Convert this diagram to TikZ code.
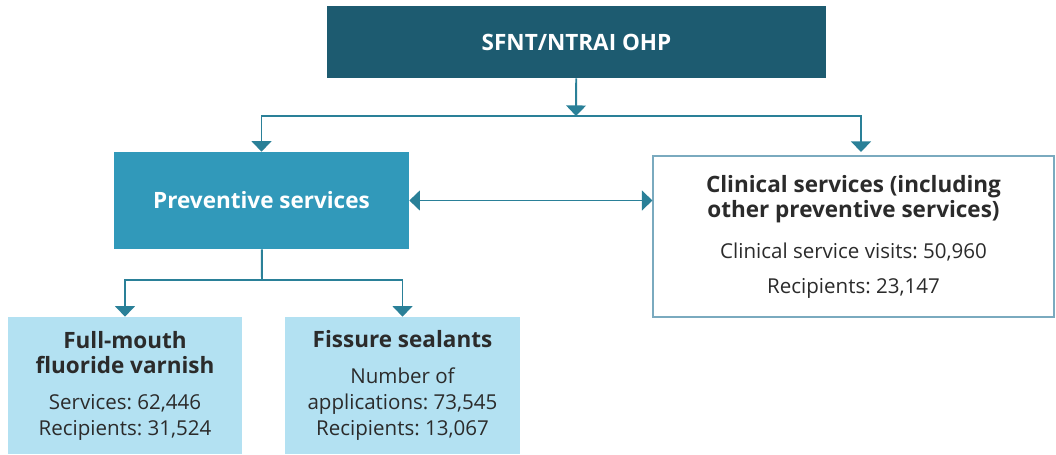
\documentclass[tikz,border=0pt]{standalone}
\usepackage{fontspec}
\setmainfont{Open Sans}
\usetikzlibrary{arrows.meta}
\definecolor{ohpdark}{HTML}{1D5B70}
\definecolor{prevblue}{HTML}{3199BA}
\definecolor{linkteal}{HTML}{2A8098}
\definecolor{lightblue}{HTML}{B3E1F2}
\definecolor{clinedge}{HTML}{7AAABF}
\definecolor{textgrey}{HTML}{2B2B2B}
\newcommand\headfont{\fontsize{16}{17.8}\selectfont\bfseries}
\frenchspacing

\begin{document}
\begin{tikzpicture}
  [x=0.025cm,y=-0.025cm]
      \tikzstyle{box_style} = [inner sep=0, align=center, font=\fontsize{14.6}{18.5}\selectfont]
      \tikzstyle{head_style} = [font=\headfont]
      \tikzstyle{edge_style} = [draw=linkteal, line width=1.4pt]
      \tikzstyle{arrow_style} = [edge_style, -{Triangle[width=14pt,length=7.5pt]}]
  \useasboundingbox (0,0) rectangle (1056,454);
  \node[box_style, head_style, fill=ohpdark, text=white, minimum width=12.475cm, minimum height=1.8cm] (ohp) at (576.5,42) {SFNT/NTRAI OHP};
  \node[box_style, head_style, fill=prevblue, text=white, minimum width=7.375cm, minimum height=2.425cm] (prev) at (261.5,200.5) {Preventive services};
  \node[box_style, fill=white, draw=clinedge, line width=1.4pt, text=textgrey, minimum width=10.0cm, minimum height=4.0cm] (clin) at (853.5,236.5)
    {\headfont Clinical services (including\\[-0.7pt] \headfont other preventive services)\\[11pt]
     Clinical service visits: 50,960\\[6pt] Recipients: 23,147};
  \node[box_style, fill=lightblue, text=textgrey, minimum width=5.85cm, minimum height=3.425cm] (fmfv) at (125,385.5)
    {\headfont Full-mouth\\[-0.7pt] \headfont fluoride varnish\\[7pt] Services: 62,446\\ Recipients: 31,524};
  \node[box_style, fill=lightblue, text=textgrey, minimum width=5.875cm, minimum height=3.425cm] (fs) at (402.5,385.5)
    {\headfont Fissure sealants\\[6.5pt] Number of\\ applications: 73,545\\ Recipients: 13,067};

  \coordinate (j1) at (576,116);
  \coordinate (j2) at (262,280);
  \coordinate (c1) at (861,152);

  \draw[arrow_style] (ohp) -- (j1);
  \draw[arrow_style] (j1) -| (prev);
  \draw[arrow_style] (j1) -| (c1);
  \draw[arrow_style, {Triangle[width=14pt,length=7.5pt]}-{Triangle[width=14pt,length=7.5pt]}] (prev.east) -- (prev.east -| clin.west);
  \draw[edge_style] (prev) -- (j2);
  \draw[arrow_style] (j2) -| (fmfv);
  \draw[arrow_style] (j2) -| (fs);
\end{tikzpicture}
\end{document}
